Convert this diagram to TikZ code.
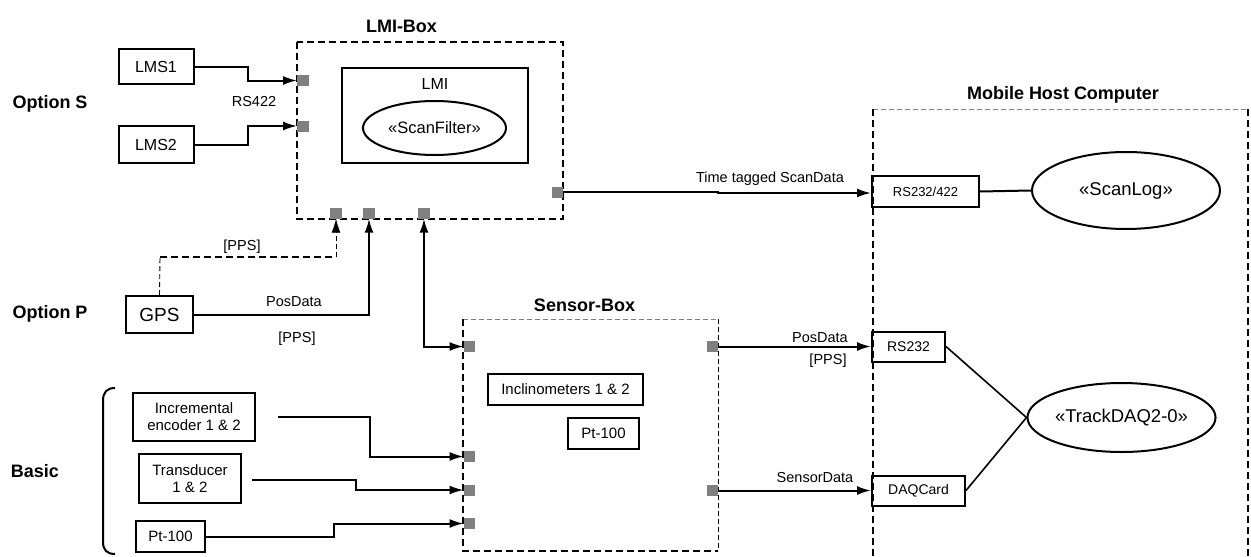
\documentclass[tikz,border=0pt]{standalone}
\usepackage{fontspec}
\setmainfont{Liberation Sans}
\usetikzlibrary{arrows.meta,shapes.geometric}
\tikzset{
  box/.style={draw, line width=2pt, inner sep=0pt, font=\fontsize{15}{17}\selectfont, align=center},
  oval/.style={draw, ellipse, line width=2pt, inner sep=0pt, font=\fontsize{18.5}{20}\selectfont},
  port/.style={fill=gray, draw=none, minimum width=11.5pt, minimum height=11pt, inner sep=0pt},
  conn/.style={line width=2pt},
  arr/.style={conn, -{Latex[length=14pt,width=9pt]}},
  darr/.style={conn, {Latex[length=14pt,width=9pt]}-{Latex[length=14pt,width=9pt]}},
  thickdash/.style={line width=2.6pt, dash pattern=on 7pt off 4pt},
  thindash/.style={line width=0.9pt, dash pattern=on 5pt off 3pt},
  lbl/.style={font=\fontsize{14.5}{16}\selectfont, inner sep=0pt},
  ttl/.style={font=\bfseries\fontsize{18}{20}\selectfont, inner sep=0pt},
}
\begin{document}
\begin{tikzpicture}[x=1pt,y=-1pt]
\useasboundingbox (0,0) rectangle (1251,557);

% ---------- LMI-Box ----------
\node[ttl] (lmititle) at (401.5,26) {LMI-Box};
\draw[thickdash] (297,42) rectangle (563,219);
\node[box, minimum width=186pt, minimum height=95pt] (lmi) at (435,115.5) {};
\node[font=\fontsize{16}{18}\selectfont, inner sep=0pt] (lmitxt) at (435,84) {LMI};
\node[oval, minimum width=143pt, minimum height=54pt, font=\fontsize{16.5}{18}\selectfont] (scanfilter) at (434.5,128) {«ScanFilter»};

\node[port] (pL1) at (303,80.5) {};
\node[port] (pL2) at (303,126) {};
\node[port] (pB1) at (336,213) {};
\node[port] (pB2) at (369,213) {};
\node[port] (pB3) at (424,213) {};
\node[port] (pR)  at (557.5,192) {};

% ---------- Option S ----------
\node[ttl] (optS) at (50,104) {Option S};
\node[box, minimum width=75pt, minimum height=35pt, font=\fontsize{16}{18}\selectfont] (lms1) at (156,66.5) {LMS1};
\node[box, minimum width=75pt, minimum height=37pt, font=\fontsize{16}{18}\selectfont] (lms2) at (156,144.5) {LMS2};
\draw[arr] (lms1.east) -- ++(53.5,0) |- (pL1.west);
\draw[arr] (lms2.east) -- ++(53.5,0) |- (pL2.west);
\node[lbl] (rs422) at (254,102) {RS422};

% ---------- Option P ----------
\node[ttl] (optP) at (50,314) {Option P};
\node[box, minimum width=67pt, minimum height=37pt, font=\fontsize{19}{21}\selectfont] (gps) at (159.5,314.5) {GPS};
\coordinate (ppsA) at (160,257);
\coordinate (ppsB) at (336,257);
\draw[thindash] (gps.north) -- (ppsA);
\draw[thickdash] (ppsA) -- (ppsB);
\draw[thindash, -{Latex[length=14pt,width=9pt]}] (ppsB) -- (pB1.south);
\node[lbl] (pps1) at (242,247) {[PPS]};
\draw[arr] (gps.east) -| (pB2.south);
\node[lbl] (posd1) at (294,302) {PosData};
\node[lbl] (pps2) at (297,339) {[PPS]};

% ---------- Sensor-Box ----------
\node[ttl] (sensortitle) at (584.5,305) {Sensor-Box};
\draw[thindash, draw=gray] (463,319) -- (718,319);
\draw[thindash] (718,319) -- (718,551);
\draw[thickdash] (463,319) -- (463,551) -- (718,551);
\node[box, minimum width=155pt, minimum height=31pt] (incl) at (565.5,389.5) {Inclinometers 1 \& 2};
\node[box, minimum width=71pt, minimum height=31pt] (pt100in) at (603.5,433.5) {Pt-100};

\node[port] (sL1) at (469.5,346.5) {};
\node[port] (sL2) at (469.5,456.5) {};
\node[port] (sL3) at (469.5,490) {};
\node[port] (sL4) at (469.5,523.5) {};
\node[port] (sR1) at (712.5,346.5) {};
\node[port] (sR2) at (712.5,490.5) {};

\draw[darr] (pB3.south) |- (sL1.west);

% ---------- Basic ----------
\node[ttl] (basic) at (35,471) {Basic};
\draw[line width=2pt] (115,388) .. controls (107,388) and (103,392) .. (103,401) -- (103,542)
  .. controls (103,550) and (107,554) .. (115,554);
\node[box, minimum width=122pt, minimum height=48pt] (incr) at (194,417) {Incremental\\encoder 1 \& 2};
\node[box, minimum width=102pt, minimum height=49pt] (trans) at (190,478.5) {Transducer\\1 \& 2};
\node[box, minimum width=69pt, minimum height=31pt] (pt100o) at (170.5,536.5) {Pt-100};
\coordinate (incrout) at (278,417);
\coordinate (transout) at (252,480);
\draw[arr] (incrout) -- (370,417) |- (sL2.west);
\draw[arr] (transout) -- (356,480) |- (sL3.west);
\draw[arr] (pt100o.east) -- (334,536.5) |- (sL4.west);

% ---------- Mobile Host Computer ----------
\node[ttl] (mhctitle) at (1063,94.5) {Mobile Host Computer};
\draw[thindash, draw=gray] (873,109) -- (1248,109);
\draw[thickdash] (873,109) -- (873,560);
\draw[thickdash] (1248,109) -- (1248,560);
\node[box, minimum width=107pt, minimum height=31pt, font=\fontsize{13}{15}\selectfont] (r1) at (925.5,191.5) {RS232/422};
\node[oval, minimum width=188pt, minimum height=77pt] (scanlog) at (1126,190.5) {«ScanLog»};
\node[box, minimum width=73pt, minimum height=30pt, font=\fontsize{14}{16}\selectfont] (r2) at (908.5,346.5) {RS232};
\node[box, minimum width=93pt, minimum height=30pt, font=\fontsize{14}{16}\selectfont] (daq) at (918.5,490.5) {DAQCard};
\node[oval, minimum width=187pt, minimum height=69pt] (tdaq) at (1121.5,417.5) {«TrackDAQ2-0»};

\draw[arr] (pR.east) -- (718,192) |- ([yshift=-1.5pt]r1.west);
\node[lbl] (ttsd) at (770,179) {Time tagged ScanData};
\draw[conn] (r1.east) -- (scanlog.west);

\draw[arr] (sR1.east) -- (r2.west);
\node[lbl] (posd2) at (820,338) {PosData};
\node[lbl] (pps3) at (828,361) {[PPS]};
\draw[arr] (sR2.east) -- (daq.west);
\node[lbl] (sd) at (815,478) {SensorData};

\draw[line width=1.6pt] (r2.east) -- (tdaq.west);
\draw[line width=1.6pt] (daq.east) -- (tdaq.west);
\end{tikzpicture}
\end{document}
